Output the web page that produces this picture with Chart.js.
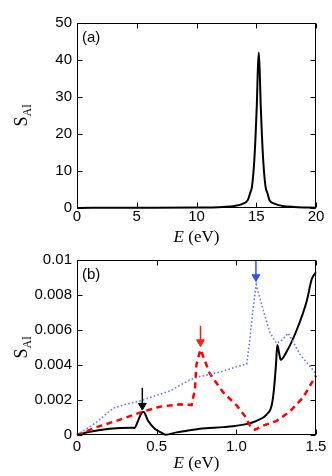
<!DOCTYPE html>
<html>
<head>
<meta charset="utf-8">
<script src="https://cdn.jsdelivr.net/npm/chart.js@4/dist/chart.umd.min.js"></script>
<style>
  body { margin: 0; background: #fff; width: 332px; height: 476px; position: relative; overflow: hidden; }
  canvas { position: absolute; left: 0; }
  #chartA { top: 0; }
  #chartB { top: 246px; }
</style>
</head>
<body>
<canvas id="chartA" width="332" height="246"></canvas>
<canvas id="chartB" width="332" height="230"></canvas>
<script>
// --- DATA ---
// panel (a): full energy range
const topE = [0, 5, 10, 12.2, 13.2, 13.9, 14.3, 14.48, 14.64, 14.83, 14.95, 15.05, 15.12, 15.21, 15.3, 15.37, 15.47, 15.59, 15.78, 15.94, 16.1, 16.51, 17.21, 18.21, 20];
const topS = [0.03, 0.05, 0.12, 0.3, 0.55, 1.2, 2.2, 4, 5.7, 12.5, 20, 28, 36, 42, 36, 28, 20, 12.5, 5.7, 4, 2.2, 1.2, 0.55, 0.3, 0.1];

// panel (b): low energy zoom, three curves
const blackE = [0, 0.08, 0.205, 0.342, 0.36, 0.385, 0.405, 0.418, 0.446, 0.488, 0.53, 0.555, 0.625, 0.708, 0.771, 0.918, 0.98, 1.06, 1.127, 1.19, 1.222, 1.236, 1.249, 1.257, 1.27, 1.278, 1.316, 1.379, 1.442, 1.473, 1.494, 1.5];
const blackS = [0, 0.00018, 0.00036, 0.00042, 0.0004, 0.00085, 0.00126, 0.00132, 0.00081, 0.00036, 0.00013, 0.00002, 0.00015, 0.00027, 0.00036, 0.00045, 0.0005, 0.00062, 0.00081, 0.00117, 0.0017, 0.0026, 0.00405, 0.00514, 0.0046, 0.0043, 0.00477, 0.006, 0.00766, 0.0089, 0.00924, 0.0093];

const redE = [0, 0.122, 0.248, 0.405, 0.52, 0.645, 0.719, 0.74, 0.75, 0.775, 0.834, 0.918, 1.0, 1.054, 1.085, 1.117, 1.169, 1.253, 1.337, 1.42, 1.5];
const redS = [0, 0.00045, 0.00081, 0.00131, 0.00162, 0.00175, 0.00171, 0.0026, 0.00405, 0.00488, 0.0035, 0.00243, 0.00171, 0.00108, 0.00054, 0.0003, 0.00054, 0.00081, 0.00135, 0.00216, 0.0034];

const blueE = [0, 0.122, 0.226, 0.289, 0.405, 0.583, 0.708, 0.771, 0.9, 1.0, 1.065, 1.085, 1.106, 1.125, 1.169, 1.211, 1.253, 1.284, 1.326, 1.4, 1.5];
const blueS = [0, 0.00072, 0.00153, 0.00171, 0.00198, 0.00252, 0.00315, 0.00334, 0.0036, 0.0039, 0.00405, 0.0055, 0.0073, 0.0086, 0.00712, 0.00585, 0.00523, 0.0054, 0.00582, 0.0046, 0.0035];

// arrows: x, start value, arrow head value
const arrowE = [0.41, 0.775, 1.123];
const arrowFrom = [0.0027, 0.00625, 0.00996];
const arrowHead = [0.00168, 0.00531, 0.00903];
const arrowColors = ['#000000', '#ff1a1a', '#2f52ff'];

const xTicksA = [0, 5, 10, 15, 20];
const xTicksB = [0, 0.5, 1.0, 1.5];

const pts = (xs, ys) => xs.map((x, i) => ({ x, y: ys[i] }));

const TICK_FONT = { family: '"Liberation Sans", Arial, sans-serif', size: 15 };
const SERIF = '"Liberation Serif", "Times New Roman", serif';

// --- frame, inward ticks, labels ---
const framePlugin = {
  id: 'frame',
  afterDraw(chart, args, opts) {
    const { ctx, chartArea: a, scales: { x, y } } = chart;
    ctx.save();
    ctx.strokeStyle = '#000';
    ctx.lineWidth = 1;
    const L = Math.round(a.left) + 0.5, R = Math.round(a.right) - 0.5;
    const T = Math.round(a.top) + 0.5, B = Math.round(a.bottom) - 0.5;
    ctx.strokeRect(L, T, R - L, B - T);
    ctx.beginPath();
    x.ticks.forEach(t => {
      const px = Math.round(x.getPixelForValue(t.value)) + 0.5;
      ctx.moveTo(px, B); ctx.lineTo(px, B - 5);
      ctx.moveTo(px, T); ctx.lineTo(px, T + 5);
    });
    y.ticks.forEach(t => {
      const py = Math.round(y.getPixelForValue(t.value)) + 0.5;
      ctx.moveTo(L, py); ctx.lineTo(L + 5, py);
      ctx.moveTo(R, py); ctx.lineTo(R - 5, py);
    });
    ctx.stroke();

    ctx.fillStyle = '#000';
    // panel letter
    ctx.font = '15px "Liberation Sans", Arial, sans-serif';
    ctx.textAlign = 'left';
    ctx.textBaseline = 'alphabetic';
    ctx.fillText(opts.letter, a.left + 5, a.top + 19);

    // x title: E (eV)
    const cx = (a.left + a.right) / 2;
    const by = a.bottom + opts.xTitleOffset;
    ctx.font = 'italic 17px ' + SERIF;
    const wE = ctx.measureText('E').width;
    ctx.font = '17px ' + SERIF;
    const wR = ctx.measureText(' (eV)').width;
    let sx = cx - (wE + wR) / 2;
    ctx.font = 'italic 17px ' + SERIF;
    ctx.fillText('E', sx, by);
    ctx.font = '17px ' + SERIF;
    ctx.fillText(' (eV)', sx + wE, by);

    // y title: S_Al
    const cy = (a.top + a.bottom) / 2;
    ctx.translate(27, cy);
    ctx.rotate(-Math.PI / 2);
    ctx.font = '18px ' + SERIF;
    const wS = ctx.measureText('S').width;
    ctx.font = '12px ' + SERIF;
    const wA = ctx.measureText('Al').width;
    const x0 = -(wS + wA) / 2;
    ctx.font = '18px ' + SERIF;
    ctx.fillText('S', x0, 0);
    ctx.font = '12px ' + SERIF;
    ctx.fillText('Al', x0 + wS, 4);
    ctx.restore();
  }
};

function makeOptions(cfg) {
  return {
    responsive: false,
    animation: false,
    events: [],
    layout: { padding: { left: 0, right: 16, top: cfg.padTop, bottom: 0 } },
    plugins: {
      legend: { display: false },
      tooltip: { enabled: false },
      frame: { letter: cfg.letter, xTitleOffset: cfg.xTitleOffset }
    },
    scales: {
      x: {
        type: 'linear', min: cfg.xmin, max: cfg.xmax,
        grid: { display: false, drawTicks: false },
        border: { display: false },
        afterBuildTicks: s => { s.ticks = cfg.xTicks.map(v => ({ value: v })); },
        afterFit: s => { s.height = cfg.xHeight; },
        ticks: { color: '#000', font: TICK_FONT, padding: cfg.xPad, maxRotation: 0, autoSkip: false, callback: cfg.fmtX }
      },
      y: {
        type: 'linear', min: cfg.ymin, max: cfg.ymax,
        grid: { display: false, drawTicks: false },
        border: { display: false },
        afterFit: s => { s.width = 77; },
        ticks: { color: '#000', font: TICK_FONT, padding: 5, stepSize: cfg.ystep, callback: cfg.fmtY }
      }
    }
  };
}

// --- panel (a) ---
new Chart(document.getElementById('chartA'), {
  type: 'line',
  data: {
    datasets: [{
      data: pts(topE, topS),
      borderColor: '#000', borderWidth: 2, pointRadius: 0,
      cubicInterpolationMode: 'monotone', clip: false
    }]
  },
  options: makeOptions({
    padTop: 23, xHeight: 38, xPad: 0, xTitleOffset: 34, letter: '(a)',
    xmin: 0, xmax: 20, xTicks: xTicksA, fmtX: v => String(v),
    ymin: 0, ymax: 50, ystep: 10, fmtY: v => String(v)
  }),
  plugins: [framePlugin]
});

// --- panel (b) ---
const arrowSets = arrowE.map((e, i) => ({
  data: [{ x: e, y: arrowFrom[i] }, { x: e, y: arrowHead[i] }],
  borderColor: arrowColors[i], borderWidth: 1.5,
  pointRadius: [0, 4.5], pointStyle: 'triangle', pointRotation: 180,
  pointBackgroundColor: arrowColors[i], pointBorderColor: arrowColors[i], pointBorderWidth: 1,
  clip: false
}));

new Chart(document.getElementById('chartB'), {
  type: 'line',
  data: {
    datasets: [
      { data: pts(blueE, blueS), borderColor: '#6677ff', borderWidth: 1.6, borderDash: [1.6, 2.2], pointRadius: 0, tension: 0, clip: false },
      { data: pts(redE, redS), borderColor: '#ff0000', borderWidth: 2.5, borderDash: [6, 4.5], pointRadius: 0, tension: 0, clip: false },
      { data: pts(blackE, blackS), borderColor: '#000', borderWidth: 2, pointRadius: 0, cubicInterpolationMode: 'monotone', clip: false },
      ...arrowSets
    ]
  },
  options: makeOptions({
    padTop: 4, xHeight: 41, xPad: 3, xTitleOffset: 33, letter: '(b)',
    xmin: 0, xmax: 1.5, xTicks: xTicksB, fmtX: v => v === 0 ? '0' : v.toFixed(1),
    ymin: 0, ymax: 0.01, ystep: 0.002, fmtY: v => v === 0 ? '0' : String(+v.toFixed(3))
  }),
  plugins: [framePlugin]
});
</script>
</body>
</html>
